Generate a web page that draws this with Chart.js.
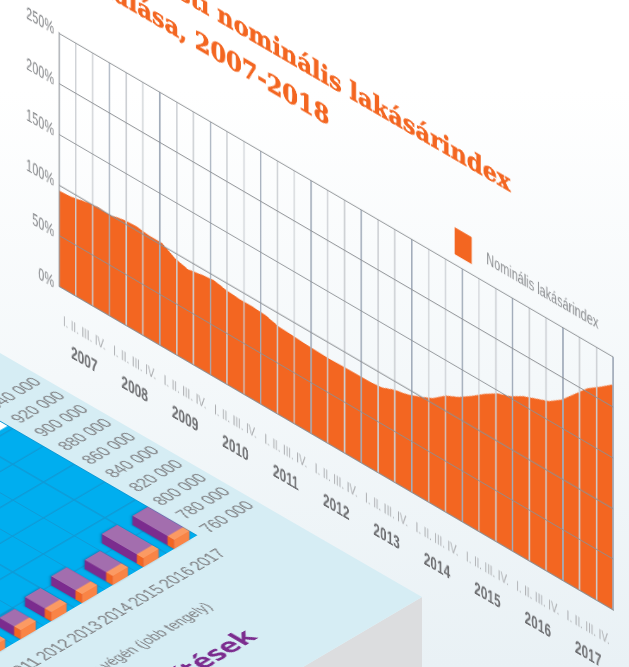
<!DOCTYPE html>
<html><head><meta charset="utf-8">
<script src="https://cdn.jsdelivr.net/npm/chart.js@4"></script>
<style>
html,body{margin:0;padding:0;width:629px;height:667px;overflow:hidden;background:linear-gradient(180deg,#fff 0,#fff 90px,#e9f1f5 667px);}
.abs{position:absolute;left:0;top:0;width:629px;height:667px;}
canvas{position:absolute;left:0;top:0;transform-origin:0 0;}
#panel{background:#d6edf4;clip-path:polygon(0 353px,422px 597px,303px 667px,0 667px);}
#side{background:#dcdddf;clip-path:polygon(422px 597px,422px 667px,303px 667px);}
#corner{background:#fff;clip-path:polygon(0 421.5px,10.7px 427px,0 433px);}
#c2{transform:matrix(.7068,-.4157,.865,.502,-255,532.5);}
#c1{transform:matrix(.66,.38544,0,1,0,-202.5);}
</style></head><body>
<div class="abs" id="side"></div><div class="abs" id="panel"></div><div class="abs" id="corner"></div>
<canvas id="c2" width="400" height="436"></canvas>
<canvas id="c1" width="953" height="519"></canvas>
<script>
const SANS = '"Liberation Sans",sans-serif';
const titleLines = ['A budapesti nominális lakásárindex', 'alakulása, 2007-2018'];
const seriesName = 'Nominális lakásárindex';
const yearLabels = ['2007','2008','2009','2010','2011','2012','2013','2014','2015','2016','2017'];
const quarterLabel = 'I. II. III. IV.';
const indexValues = [94.5,95.5,98.5,100.8,100,103,103.8,102,102,94.5,91,93.5,95.2,92.5,91.3,91.5,90.5,87,86,85.3,84.5,84,84.5,84.8,85,86,91,94,99,105,115,121,129.5,139,147,151.5,159,164,169,178,191,204,213,222.7];

const stockYears = ['2011','2012','2013','2014','2015','2016','2017'];
const stockValues = [778000,778000,782000,786000,783500,795000,795000];
const capEnd = 765500;
const stockTicks = [760000,780000,800000,820000,840000,860000,880000,900000,920000,940000];
const stockGrid = [786000,812000,838000,864000,890000,916000];
const stockCaption = 'Lakásállomány az év végén (jobb tengely)';
const stockTitle = 'Lakásépítések';

const ORANGE = '#f36621';
const SX1 = .66, SX2 = .82;
const nQ = indexValues.length - 1;
const cols = 33;
const nb = '\u00a0\u00a0\u00a0';
const noMargins = s => { s.paddingLeft = 0; s.paddingRight = 0; s.paddingTop = 0; s.paddingBottom = 0; };

const titlePlugin = {
  id: 'mainTitle',
  afterDraw(chart) {
    const { ctx, chartArea: a } = chart;
    ctx.save(); ctx.translate(a.left, a.top); ctx.scale(1 / SX1, 1);
    ctx.fillStyle = ORANGE; ctx.strokeStyle = ORANGE; ctx.lineWidth = .5; ctx.textAlign = 'left'; ctx.textBaseline = 'alphabetic';
    ctx.font = 'bold 25px "DejaVu Serif Condensed","DejaVu Serif",serif';
    ctx.fillText(titleLines[0], 1, -104.5); ctx.strokeText(titleLines[0], 1, -104.5);
    ctx.fillText(titleLines[1], 0, -65); ctx.strokeText(titleLines[1], 0, -65);
    ctx.restore();
  }
};

new Chart(document.getElementById('c1'), {
  type: 'line',
  data: { datasets: [{
    label: seriesName,
    data: indexValues.map((v, i) => ({ x: i, y: v })),
    fill: 'origin', backgroundColor: ORANGE, borderColor: ORANGE,
    borderWidth: 0, pointRadius: 0, tension: 0
  }]},
  plugins: [titlePlugin],
  options: {
    responsive: false, animation: false, devicePixelRatio: 1.515,
    layout: { padding: { top: 155, right: 24.2, left: 0, bottom: 0 } },
    plugins: {
      tooltip: { enabled: false },
      title: { display: false },
      legend: { display: true, position: 'top', align: 'end', fullSize: false,
        labels: { boxWidth: 25.8, boxHeight: 27, padding: 9, color: '#8a8c8f', font: { family: SANS, size: 16.5 },
          generateLabels: c => Chart.defaults.plugins.legend.labels.generateLabels(c).map(i => ({ ...i, text: nb + i.text + nb })) } }
    },
    scales: {
      x: { type: 'linear', min: 0, max: nQ, weight: 0,
        afterBuildTicks: s => { s.ticks = Array.from({ length: cols + 1 }, (_, k) => ({ value: k * nQ / cols })); },
        afterFit: s => { s.height = 0; noMargins(s); },
        grid: { z: 1, lineWidth: 2.2, drawTicks: false,
          color: c => (c.index % 3 === 0 ? '#a3adbb' : '#cdd0d4') },
        border: { z: 1, color: '#85888c', width: 1.2 },
        ticks: { display: false } },
      x2: { type: 'linear', min: 0, max: nQ, position: 'bottom', weight: 1,
        afterBuildTicks: s => { s.ticks = yearLabels.map((y, k) => ({ value: (k + .5) * (nQ / yearLabels.length) })); },
        afterFit: s => { s.height = 37; noMargins(s); },
        grid: { display: false, drawTicks: false }, border: { display: false },
        ticks: { callback: () => quarterLabel, maxRotation: 0, autoSkip: false, padding: 24.5, color: '#a9abae', font: { family: SANS, size: 14.5 } } },
      x3: { type: 'linear', min: 0, max: nQ, position: 'bottom', weight: 2,
        afterBuildTicks: s => { s.ticks = yearLabels.map((y, k) => ({ value: (k + .5) * (nQ / yearLabels.length) })); },
        afterFit: s => { s.height = 28; noMargins(s); },
        grid: { display: false, drawTicks: false }, border: { display: false },
        ticks: { callback: (v, i) => yearLabels[i], maxRotation: 0, autoSkip: false, padding: 12, color: '#6d6e71', font: { family: SANS, size: 18, weight: 'bold' } } },
      y: { min: 0, max: 250, afterFit: s => { s.width = 89.4; noMargins(s); },
        grid: { z: 1, lineWidth: 1.2, color: '#8d9094', drawTicks: false },
        border: { z: 1, color: '#9a9da1', width: 2 },
        ticks: { stepSize: 50, padding: 7.6, color: '#808285', font: { family: SANS, size: 16.5 }, callback: v => v + '%' } }
    }
  }
});

const blockPlugin = {
  id: 'blocks',
  beforeDraw(chart) {
    const { ctx, chartArea: a, scales: { y } } = chart;
    ctx.save(); ctx.fillStyle = '#00aeef';
    const t = y.getPixelForValue(920000);
    ctx.fillRect(a.left, t, a.right - a.left, a.bottom - t);
    ctx.restore();
  },
  afterDatasetsDraw(chart) {
    const { ctx } = chart; const h = 9, hu = 9 / SX2;
    const quad = (p, col) => { ctx.fillStyle = col; ctx.beginPath(); p.forEach((q, i) => i ? ctx.lineTo(q[0], q[1]) : ctx.moveTo(q[0], q[1])); ctx.closePath(); ctx.fill(); };
    const cap = chart.getDatasetMeta(0).data, body = chart.getDatasetMeta(1).data;
    body.forEach((b, i) => {
      const c = cap[i]; const l = b.x - b.width / 2, r = b.x + b.width / 2;
      ctx.save(); ctx.shadowColor = 'rgba(0,60,100,.45)'; ctx.shadowBlur = 5; ctx.shadowOffsetX = -1; ctx.shadowOffsetY = -1;
      quad([[l, b.y], [l, c.base], [r, c.base], [r + hu, c.base - h], [r + hu, b.y - h], [l + hu, b.y - h]], '#7b2c8e');
      ctx.restore();
      quad([[l, b.y], [l, b.base], [l + hu, b.base - h], [l + hu, b.y - h]], '#7b2c8e');
      quad([[l + hu, b.y - h], [r + hu, b.y - h], [r + hu, b.base - h], [l + hu, b.base - h]], '#a36eae');
      quad([[l, c.y], [l, c.base], [l + hu, c.base - h], [l + hu, c.y - h]], '#f26522');
      quad([[l, c.base], [r, c.base], [r + hu, c.base - h], [l + hu, c.base - h]], '#f98446');
      quad([[l + hu, c.y - h], [r + hu, c.y - h], [r + hu, c.base - h], [l + hu, c.base - h]], '#fb9a63');
    });
  },
  afterDraw(chart) {
    const { ctx, chartArea: a } = chart;
    ctx.save(); ctx.textAlign = 'right'; ctx.textBaseline = 'middle';
    ctx.fillStyle = '#808285'; ctx.font = '16.5px ' + SANS;
    ctx.fillText(stockCaption, a.right - 62 / SX2, a.bottom + 76);
    ctx.translate(a.right - 66 / SX2, a.bottom + 129); ctx.scale(1 / SX2, 1);
    ctx.fillStyle = '#7b2c8e'; ctx.font = 'bold 28px "Open Sans",sans-serif';
    ctx.fillText(stockTitle, 0, 0);
    ctx.restore();
  }
};

new Chart(document.getElementById('c2'), {
  type: 'bar',
  data: { labels: stockYears, datasets: [
    { label: 'cap', data: stockValues.map(() => [stockTicks[0], capEnd]), backgroundColor: '#f26522', barPercentage: .5, categoryPercentage: 1, grouped: false },
    { label: 'stock', data: stockValues.map(v => [capEnd, v]), backgroundColor: '#7b2c8e', barPercentage: .5, categoryPercentage: 1, grouped: false }
  ]},
  plugins: [blockPlugin],
  options: {
    responsive: false, animation: false, devicePixelRatio: 2,
    layout: { padding: { top: 20, left: 10, right: 0, bottom: 0 } },
    plugins: { legend: { display: false }, tooltip: { enabled: false }, title: { display: false } },
    scales: {
      x: { afterFit: s => { s.height = 170; noMargins(s); },
        grid: { color: c => (c.index >= stockYears.length ? 'rgba(0,0,0,0)' : '#0f9ad6'), lineWidth: 1.5, drawTicks: false },
        border: { display: false },
        ticks: { padding: 20, maxRotation: 0, autoSkip: false, color: '#808285', font: { family: SANS, size: 18 } } },
      y: { position: 'right', min: 760000, max: 940000, afterFit: s => { s.width = 86; noMargins(s); },
        afterBuildTicks: s => { s.ticks = stockTicks.map(v => ({ value: v })); },
        grid: { display: false, drawTicks: false }, border: { display: false },
        ticks: { padding: 11, color: '#808285', font: { family: SANS, size: 18 }, callback: v => String(v).replace(/(\d{3})$/, ' $1') } },
      yg: { position: 'left', min: 760000, max: 940000, afterFit: s => { s.width = 0; noMargins(s); },
        afterBuildTicks: s => { s.ticks = stockGrid.map(v => ({ value: v })); },
        grid: { color: '#0f9ad6', lineWidth: 1.5, drawTicks: false }, border: { display: false },
        ticks: { display: false } }
    }
  }
});
</script>
</body></html>
